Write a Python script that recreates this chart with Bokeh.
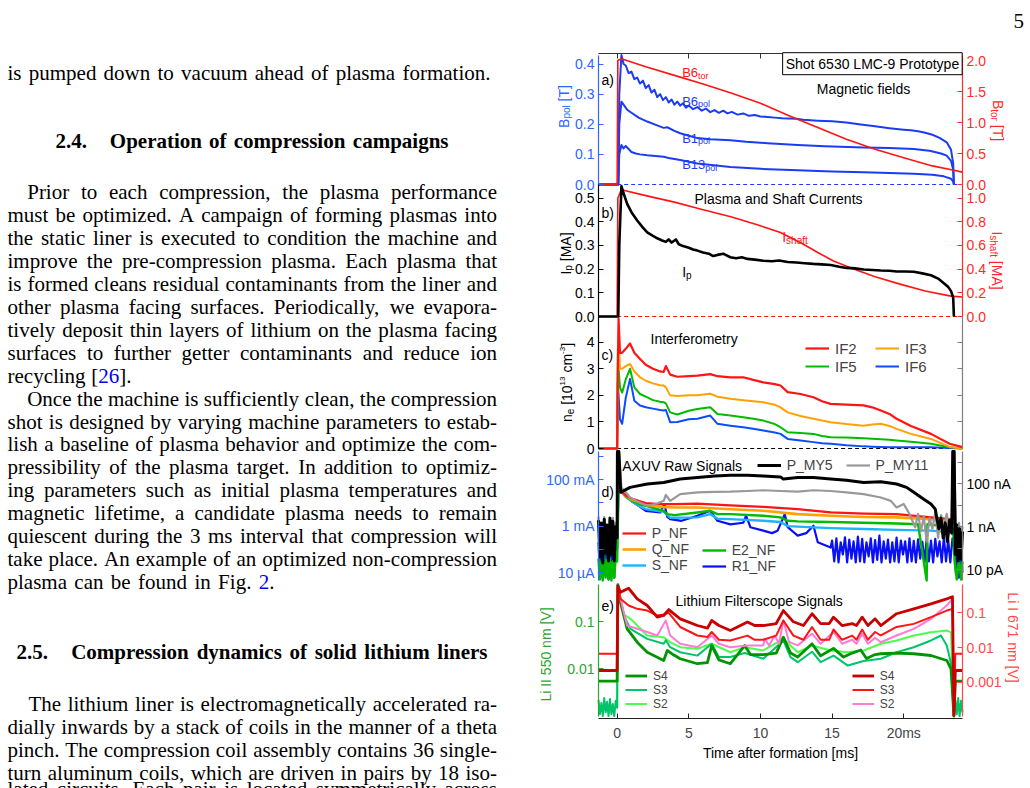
import math
from bokeh.plotting import figure
from bokeh.models import (ColumnDataSource, Range1d, LinearAxis, LogAxis, LogScale, FixedTicker, Label,
                          Legend, LegendItem)
from bokeh.core.properties import value
from bokeh.embed import file_html
from bokeh.resources import INLINE

# ----------------------------------------------------------------------------
# Shot 6530 traces (time in ms after formation)
# ----------------------------------------------------------------------------

# a) magnetic fields [T]
T_B6TOR = [-1.3, 0.0, 0.05, 0.3, 2, 4, 6, 8, 10, 12, 14, 16, 18, 20, 22, 23.5, 24.1]
B6TOR = [0, 0, 2.0, 2.03, 1.90, 1.76, 1.62, 1.47, 1.31, 1.11, 0.92, 0.73, 0.57, 0.43, 0.30, 0.23, 0.20]

T_B6POL = [-1.3, 0.08, 0.15, 0.3, 0.45, 0.6, 0.8, 1.0, 1.2, 1.4,
           1.6, 1.8, 2.0, 2.2, 2.4, 2.6, 2.8, 3.0, 3.2, 3.4,
           3.6, 3.8, 4.0, 4.2, 4.4, 4.6, 4.8, 5.0, 5.3, 5.6,
           5.9, 6.2, 6.5, 6.8, 7.1, 7.4, 7.7, 8.0, 8.4, 8.8,
           9.2, 9.6, 10.0, 10.5, 11.0, 11.5, 12.0, 12.5, 13.0, 14.0,
           15.0, 16.0, 17.0, 18.0, 19.0, 20.0, 20.5, 21.0, 21.5, 22.0,
           22.5, 23.0, 23.3, 23.45, 23.5]
B6POL = [0, 0, 0.30, 0.43, 0.40, 0.395, 0.37, 0.375, 0.35, 0.355,
         0.335, 0.345, 0.32, 0.33, 0.305, 0.315, 0.29, 0.30, 0.28, 0.29,
         0.272, 0.282, 0.265, 0.275, 0.262, 0.27, 0.255, 0.262, 0.25, 0.257,
         0.245, 0.252, 0.24, 0.247, 0.238, 0.245, 0.236, 0.241, 0.232, 0.236,
         0.228, 0.231, 0.226, 0.224, 0.222, 0.22, 0.219, 0.218, 0.215, 0.212,
         0.210, 0.206, 0.199, 0.193, 0.187, 0.182, 0.180, 0.177, 0.172, 0.165,
         0.155, 0.14, 0.115, 0.07, 0.0]

T_B1POL = [-1.3, 0.08, 0.15, 0.3, 0.5, 0.7, 1.0, 1.5, 2.1, 2.7,
           3.25, 3.5, 4.0, 4.4, 5.0, 5.6, 6.5, 7.9, 9.0, 10.5,
           12.6, 14.5, 17.2, 19.0, 20.7, 21.8, 22.6, 23.0, 23.3, 23.45, 23.5]
B1POL = [0, 0, 0.2, 0.275, 0.262, 0.248, 0.238, 0.222, 0.209, 0.198,
         0.188, 0.19, 0.178, 0.170, 0.162, 0.154, 0.150, 0.147, 0.142, 0.137,
         0.131, 0.127, 0.123, 0.121, 0.118, 0.112, 0.103, 0.096, 0.078, 0.05, 0.0]

T_B13POL = [-1.3, 0.08, 0.15, 0.3, 0.45, 0.6, 0.8, 1.0, 1.3, 1.6,
            2.1, 3.25, 3.6, 4.4, 5.6, 7.9, 10.0, 12.6, 15.0, 17.2,
            19.0, 20.7, 22.0, 22.8, 23.3, 23.45, 23.5]
B13POL = [0, 0, 0.1, 0.131, 0.12, 0.128, 0.118, 0.108, 0.103, 0.100,
          0.097, 0.092, 0.088, 0.081, 0.070, 0.058, 0.052, 0.047, 0.043, 0.041,
          0.038, 0.036, 0.032, 0.027, 0.019, 0.01, 0.0]

# b) plasma and shaft currents [MA]
T_IP = [-1.3, 0.08, 0.15, 0.3, 0.45, 0.7, 1.0, 1.4, 1.8, 2.1,
        2.5, 2.8, 3.1, 3.4, 3.6, 3.8, 4.1, 4.3, 4.6, 5.0,
        5.3, 5.6, 6.0, 6.4, 6.7, 7.0, 7.4, 7.9, 8.3, 8.7,
        9.1, 9.6, 10.2, 10.8, 11.3, 11.9, 12.5, 13.1, 13.7, 14.3,
        14.9, 15.5, 16.0, 16.6, 17.2, 17.8, 18.4, 19.0, 19.5, 20.1,
        20.7, 21.3, 21.9, 22.4, 22.8, 23.1, 23.3, 23.45, 23.5]
IP = [0, 0, 0.3, 0.55, 0.52, 0.475, 0.44, 0.405, 0.375, 0.355,
      0.34, 0.33, 0.322, 0.315, 0.325, 0.312, 0.325, 0.305, 0.297, 0.29,
      0.283, 0.278, 0.27, 0.265, 0.255, 0.26, 0.265, 0.25, 0.246, 0.25,
      0.243, 0.24, 0.235, 0.233, 0.236, 0.23, 0.228, 0.225, 0.222, 0.22,
      0.217, 0.21, 0.205, 0.203, 0.198, 0.196, 0.194, 0.193, 0.19, 0.19,
      0.189, 0.182, 0.174, 0.16, 0.14, 0.125, 0.107, 0.08, 0.0]

T_ISHAFT = [-1.3, 0.0, 0.05, 0.3, 2, 4, 5.8, 8, 10, 11.4, 13, 14, 15.1, 16.5, 18, 19.8, 21.5, 23.3, 24.1]
ISHAFT = [0, 0, 1.0, 1.07, 1.02, 0.965, 0.907, 0.84, 0.765, 0.709, 0.61, 0.54, 0.469, 0.40, 0.335, 0.271,
          0.215, 0.172, 0.164]

# dashed zero reference, drawn from formation onwards
ZERO_T = [0.0, 24.1]
ZERO_V = [0.0, 0.0]

# c) interferometry, n_e [1e13 cm^-3]
T_IF = [-1.3, 0.0, 0.05, 0.1, 0.2, 0.35, 0.6, 0.9, 1.2, 1.6,
        2.0, 2.5, 3.0, 3.25, 3.4, 3.7, 4.2, 5.0, 5.6, 6.5,
        7.0, 7.9, 8.8, 9.5, 10.2, 11.0, 11.4, 11.9, 12.8, 13.7,
        14.3, 14.9, 16.0, 17.2, 17.8, 18.4, 19.0, 19.5, 20.5, 21.9,
        23.2, 24.1]
IF2 = [0, 0, 3.0, 4.9, 3.6, 3.6, 3.75, 3.95, 3.6, 3.37,
       3.15, 3.0, 2.9, 2.88, 3.1, 2.78, 2.7, 2.72, 2.74, 2.8,
       2.72, 2.68, 2.68, 2.58, 2.49, 2.42, 2.37, 2.12, 2.05, 1.93,
       1.78, 1.68, 1.65, 1.62, 1.55, 1.43, 1.30, 1.12, 0.85, 0.55,
       0.18, 0.05]
IF3 = [0, 0, 2.5, 4.3, 3.0, 3.0, 3.1, 3.18, 2.9, 2.68,
       2.55, 2.45, 2.38, 2.37, 2.3, 2.0, 1.98, 2.0, 2.0, 2.06,
       1.95, 1.87, 1.82, 1.78, 1.74, 1.65, 1.55, 1.36, 1.22, 1.12,
       1.05, 0.99, 0.92, 0.86, 0.9, 0.93, 0.85, 0.74, 0.55, 0.36,
       0.06, 0.0]
IF5 = [0, 0, 3.75, 3.0, 2.3, 2.1, 2.6, 3.0, 2.3, 2.05,
       1.95, 1.82, 1.76, 1.74, 1.7, 1.36, 1.28, 1.42, 1.49, 1.55,
       1.30, 1.24, 1.18, 1.12, 1.05, 0.92, 0.80, 0.61, 0.58, 0.55,
       0.47, 0.42, 0.41, 0.39, 0.37, 0.35, 0.33, 0.30, 0.25, 0.18,
       0.05, 0.0]
IF6 = [0, 0, 2.49, 2.0, 1.1, 0.93, 1.9, 2.62, 1.8, 1.62,
       1.55, 1.5, 1.45, 1.43, 1.45, 0.99, 1.0, 1.1, 1.12, 1.24,
       0.93, 0.86, 0.80, 0.74, 0.68, 0.60, 0.55, 0.36, 0.30, 0.24,
       0.2, 0.18, 0.12, 0.08, 0.07, 0.06, 0.05, 0.05, 0.05, 0.05,
       0.02, 0.0]

# d) AXUV raw signals: NF channels [A], MY channels [A]
T_PMY5 = [-1.3, -1.2, -1.1, -1.0, -0.9, -0.8, -0.7, -0.6, -0.5, -0.4, -0.3, -0.2, -0.1, 0.0,
          0.02, 0.12, 0.25, 0.9, 2.1, 3.25, 4.4, 5.6, 6.8, 7.9, 9.1, 10.2, 11.4, 11.6,
          12.6, 13.7, 14.9, 16.0, 17.2, 18.4, 19.5, 20.2, 20.7, 21.4, 21.9, 22.2, 22.3,
          22.45, 22.6, 22.75, 22.9, 23.05, 23.2, 23.35, 23.42, 23.52,
          23.6, 23.7, 23.8, 23.9, 24.0, 24.1]
PMY5 = [2.0e-9, 4e-11, 1.5e-9, 2e-11, 2.2e-9, 6e-11, 1.2e-9, 2.5e-11, 2.5e-9, 5e-11, 1.8e-9, 2.5e-11, 1.0e-9, 3e-10,
        3.2e-6, 3.2e-6, 4.0e-8, 6.8e-8, 9.8e-8, 1.15e-7, 1.66e-7, 1.95e-7, 2.3e-7, 2.5e-7, 2.5e-7, 2.3e-7, 2.1e-7, 1.66e-7,
        1.95e-7, 1.95e-7, 1.66e-7, 1.45e-7, 1.15e-7, 1.25e-7, 9.8e-8, 6.8e-8, 4.0e-8, 1.9e-8, 1.15e-8, 6.6e-9, 2.7e-9,
        8e-10, 2.5e-9, 3e-10, 1.5e-9, 2e-10, 2.0e-9, 5e-10, 3.2e-6, 3.2e-6,
        5e-11, 1.2e-9, 2.5e-11, 8e-10, 3e-11, 6e-10]

T_PMY11 = [-1.3, -1.2, -1.1, -1.0, -0.9, -0.8, -0.7, -0.6, -0.5, -0.4, -0.3, -0.2, -0.1, 0.0,
           0.03, 0.13, 0.3, 0.6, 0.9, 1.5, 2.1, 2.8, 3.25, 3.4, 3.7, 4.4, 5.6, 6.8, 7.9, 9.1,
           10.2, 11.4, 12.6, 13.7, 14.9, 16.0, 17.2, 18.4, 19.1, 19.5, 20.0, 20.4, 20.8,
           21.0, 21.2, 21.4, 21.6, 21.8, 22.0, 22.2, 22.4, 22.6, 22.8, 23.0, 23.2, 23.35,
           23.43, 23.5, 23.6, 23.7, 23.85, 24.0, 24.1]
PMY11 = [3e-9, 8e-11, 1.2e-9, 3e-11, 2.8e-9, 1e-10, 9e-10, 4e-11, 2.0e-9, 6e-11, 2.6e-9, 3e-11, 1.5e-9, 5e-10,
         3.2e-6, 3.2e-6, 6.8e-8, 4e-8, 2.3e-8, 1.4e-8, 9.5e-9, 1.2e-8, 1.6e-8, 3e-8, 1.6e-8, 3.3e-8, 4.0e-8, 4.2e-8, 4.3e-8, 4.6e-8,
         5.0e-8, 4.6e-8, 4.3e-8, 5.0e-8, 4.6e-8, 4.0e-8, 3.3e-8, 2.3e-8, 1.6e-8, 7.9e-9, 1.15e-8, 3.9e-9, 9.3e-10,
         4e-9, 6e-10, 3e-9, 2e-10, 2.5e-9, 8e-10, 4.5e-9, 3e-10, 3.5e-9, 1e-9, 4e-9, 5e-10, 2.5e-9,
         3.2e-6, 3.2e-6, 1e-8, 2e-10, 1.5e-9, 3e-10, 1e-9]

T_PNF = [0.1, 0.3, 0.6, 1.0, 1.5, 2.0, 3.0, 4.0, 5.6, 7.9, 10.2, 12.6, 14.9, 17.2, 19.5, 21.9, 23.3, 23.45]
PNF = [0.05, 0.033, 0.021, 0.0155, 0.0123, 0.010, 0.0089, 0.0089, 0.0093, 0.0079, 0.0068, 0.0054, 0.0039,
       0.0035, 0.0033, 0.0024, 0.002, 0.0015]
QNF = [0.05, 0.03, 0.02, 0.014, 0.011, 0.0085, 0.0068, 0.0064, 0.0064, 0.0054, 0.0046, 0.0033, 0.0028,
       0.0025, 0.0024, 0.002, 0.0017, 0.0013]

T_E2NF = [-1.3, -1.2, -1.1, -1.0, -0.9, -0.8, -0.7, -0.6, -0.5, -0.4, -0.3, -0.2, -0.1, 0.0,
          0.1, 0.3, 0.6, 1.0, 1.5, 2.0, 2.5, 3.25, 3.5, 4.0, 5.6, 6.5, 7.0, 7.9, 10.2, 11.4, 11.9,
          12.6, 14.9, 17.2, 19.5, 21.0, 21.6, 21.65, 21.75, 23.3, 23.45,
          23.55, 23.7, 23.85, 24.0, 24.1]
E2NF = [4e-5, 5e-6, 3e-5, 4.5e-6, 5e-5, 6e-6, 3.5e-5, 5e-6, 4e-5, 4.5e-6, 3e-5, 6e-6, 4.5e-5, 3e-5,
        0.05, 0.03, 0.019, 0.013, 0.009, 0.0075, 0.0062, 0.0046, 0.0033, 0.003, 0.0039, 0.0046, 0.0033, 0.0033, 0.0028, 0.0024, 0.0017,
        0.0016, 0.0015, 0.0014, 0.0013, 0.0012, 4.5e-6, 0.0012, 0.0012, 0.0009, 0.0008,
        3e-5, 5e-6, 4e-5, 5e-6, 3e-5]

T_SNF = [0.1, 0.3, 0.6, 1.0, 1.5, 2.0, 3.0, 3.25, 3.4, 3.7, 5.6, 6.5, 7.0, 7.9, 10.2, 11.4, 11.9, 12.6,
         14.9, 17.2, 19.5, 21.9, 23.3, 23.45]
SNF = [0.05, 0.03, 0.018, 0.0123, 0.0075, 0.0054, 0.0044, 0.0043, 0.0035, 0.0023, 0.0024, 0.0033, 0.0021, 0.002,
       0.0017, 0.0015, 0.001, 0.00095, 0.00082, 0.00075, 0.00069, 0.00064, 0.00054, 0.0004]

T_R1NF = [-1.3, -1.2, -1.1, -1.0, -0.9, -0.8, -0.7, -0.6, -0.5, -0.4, -0.3, -0.2, -0.1, 0.0,
          0.1, 0.3, 0.5, 0.7, 1.0, 1.5, 2.0, 3.0, 3.3, 3.5, 3.7, 4.5, 5.6, 6.5, 7.0, 7.9, 8.8, 9.0, 9.3,
          10.2, 10.8, 11.2, 11.7, 11.9, 12.6, 13.2, 13.7, 14.0, 14.9,
          15.0, 15.15, 15.3, 15.45, 15.6, 15.75, 15.9, 16.05, 16.2, 16.35, 16.5, 16.65, 16.8, 16.95,
          17.1, 17.25, 17.4, 17.55, 17.7, 17.85, 18.0, 18.15, 18.3, 18.45, 18.6, 18.75, 18.9, 19.05,
          19.2, 19.35, 19.5, 19.65, 19.8, 19.95, 20.1, 20.25, 20.4, 20.55, 20.7, 20.85, 21.0, 21.15,
          21.3, 21.45, 21.6, 21.75, 21.9, 22.05, 22.2, 22.35, 22.5, 22.65, 22.8, 22.95, 23.1, 23.25, 23.4,
          23.55, 23.65, 23.75, 23.85, 23.95, 24.1]
R1NF = [2e-4, 1e-5, 1.5e-4, 6e-6, 2.4e-4, 1.2e-5, 1.0e-4, 5e-6, 2.0e-4, 8e-6, 1.3e-4, 6e-6, 2.2e-4, 1e-4,
        0.05, 0.03, 0.022, 0.024, 0.012, 0.0075, 0.0046, 0.0039, 0.0089, 0.0025, 0.002, 0.0017, 0.0028, 0.0046, 0.0017,
        0.0012, 0.0014, 0.0028, 0.0009,
        0.00064, 0.0005, 0.00064, 0.0033, 0.0009, 0.00039, 0.0005, 0.00104, 0.0002, 0.00012,
        2.4e-4, 3e-5, 3.0e-4, 2.7e-5, 2.0e-4, 6e-5, 3.3e-4, 2.7e-5, 2.6e-4, 4e-5, 2.2e-4, 2.7e-5, 3.5e-4, 3e-5,
        2.8e-4, 2.7e-5, 2.0e-4, 5e-5, 3.0e-4, 2.7e-5, 2.5e-4, 3.5e-5, 3.9e-4, 2.7e-5, 2.2e-4, 4e-5, 2.6e-4, 2.7e-5,
        2.0e-4, 3e-5, 3.2e-4, 2.7e-5, 2.4e-4, 6e-5, 2.2e-4, 2.7e-5, 3.0e-4, 3e-5, 2.3e-4, 2.7e-5, 2.7e-4, 4e-5,
        2.1e-4, 2.7e-5, 3.1e-4, 3e-5, 2.4e-4, 2.7e-5, 2.8e-4, 5e-5, 2.2e-4, 2.7e-5, 3.4e-4, 3e-5, 2.6e-4, 2.7e-5, 3.0e-4,
        1e-4, 8e-6, 2e-4, 6e-6, 1.5e-4, 1e-5]

# e) lithium filterscope signals [V]
T_S4R = [-1.3, 0.0, 0.05, 0.23, 0.8, 1.4, 2.1, 2.8, 3.25, 3.6, 4.4, 5.6,
         6.3, 6.6, 7.1, 7.9, 9.1, 9.6, 10.2, 11.1, 11.6, 12.3,
         13.0, 13.6, 14.2, 14.8, 15.1, 15.7, 16.4, 16.7, 17.1, 17.5,
         18.0, 18.4, 19.5, 20.7, 21.9, 23.0, 23.4, 23.5, 23.6, 24.1]
S4R = [0.00217, 0.00217, 0.6, 0.39, 0.51, 0.253, 0.162, 0.075, 0.0836, 0.124, 0.067, 0.043,
       0.036, 0.06, 0.043, 0.031, 0.054, 0.043, 0.043, 0.049, 0.116, 0.055,
       0.043, 0.094, 0.049, 0.049, 0.075, 0.043, 0.049, 0.043, 0.075, 0.043,
       0.067, 0.043, 0.094, 0.13, 0.18, 0.253, 0.29, 0.00011, 0.00217, 0.00217]
S3R = [0.0066, 0.0066, 0.6, 0.253, 0.162, 0.13, 0.116, 0.0836, 0.09, 0.1, 0.039, 0.0222,
       0.02, 0.028, 0.0167, 0.0159, 0.022, 0.0167, 0.0167, 0.022, 0.06, 0.022,
       0.0167, 0.039, 0.0167, 0.0167, 0.033, 0.0167, 0.022, 0.0167, 0.033, 0.0167,
       0.028, 0.0222, 0.039, 0.048, 0.075, 0.116, 0.13, 0.00011, 0.0066, 0.0066]

T_S2R = [0.0, 0.05, 0.46, 0.7, 2.1, 2.8, 3.4, 3.7, 4.4, 5.6,
         6.6, 7.1, 7.9, 9.1, 10.2, 10.3, 10.6, 11.0, 11.3, 11.6,
         12.0, 12.6, 13.6, 14.2, 15.1, 15.7, 16.4, 16.7, 17.1, 17.5,
         18.0, 18.4, 19.5, 20.7, 21.9, 23.0, 23.4, 23.5]
S2R = [0.0066, 0.6, 0.104, 0.043, 0.028, 0.0222, 0.06, 0.0222, 0.0128, 0.0102,
       0.0222, 0.0128, 0.0102, 0.0115, 0.0115, 0.018, 0.0115, 0.022, 0.0128, 0.06,
       0.0145, 0.0115, 0.025, 0.0128, 0.028, 0.0128, 0.0167, 0.0128, 0.025, 0.0128,
       0.019, 0.0142, 0.0222, 0.0345, 0.067, 0.162, 0.253, 0.00011]

T_S4G = [-1.3, 0.0, 0.05, 0.23, 0.7, 1.4, 2.1, 3.25, 3.5, 3.9,
         4.4, 5.6, 6.3, 6.6, 7.1, 7.9, 8.9, 9.3, 10.2, 11.1,
         11.6, 12.1, 12.6, 13.6, 14.2, 15.1, 15.8, 16.4, 17.0, 17.4,
         18.0, 18.4, 19.5, 20.7, 21.9, 23.0, 23.3, 23.5, 23.6, 24.1]
S4G = [0.0055, 0.0055, 0.6, 0.256, 0.07, 0.0365, 0.0224, 0.015, 0.0244, 0.02,
       0.0163, 0.0128, 0.0135, 0.031, 0.0154, 0.0128, 0.031, 0.02, 0.02, 0.0215,
       0.0466, 0.0215, 0.0177, 0.0338, 0.0188, 0.027, 0.0177, 0.0215, 0.025, 0.0165,
       0.02, 0.0208, 0.0215, 0.0208, 0.0191, 0.015, 0.0100, 0.001, 0.0055, 0.0055]

T_S3G = [-1.3, -1.2, -1.1, -1.0, -0.9, -0.8, -0.7, -0.6, -0.5, -0.4, -0.3, -0.2, -0.1, 0.0,
         0.05, 0.46, 0.93, 2.1, 3.25, 3.4, 3.7, 4.4, 5.6, 6.6, 7.1, 7.9, 8.9, 10.2, 11.6, 12.1,
         12.6, 13.6, 14.2, 15.1, 16.1, 17.2, 18.4, 19.5, 20.7, 21.9, 22.6, 23.0, 23.3, 23.5,
         23.6, 23.7, 23.8, 23.9, 24.0, 24.1]
S3G = [0.0022, 0.0011, 0.0019, 0.001, 0.0024, 0.0012, 0.002, 0.001, 0.0023, 0.0011, 0.0018, 0.001, 0.0021, 0.0015,
       0.6, 0.134, 0.07, 0.043, 0.0338, 0.04, 0.0286, 0.0224, 0.019, 0.0338, 0.0177, 0.0177, 0.0215, 0.0163, 0.0397, 0.0177,
       0.0138, 0.023, 0.0138, 0.019, 0.0117, 0.0146, 0.0163, 0.0224, 0.0286, 0.0397, 0.0506, 0.031, 0.013, 0.001,
       0.0022, 0.0011, 0.0024, 0.001, 0.0021, 0.0012]

T_S2G = [0.0, 0.05, 0.46, 0.93, 2.1, 3.25, 3.7, 4.4, 5.6, 6.6,
         7.9, 8.9, 10.2, 11.6, 12.6, 13.6, 14.9, 16.1, 17.2, 18.4,
         19.5, 20.7, 21.9, 23.0, 23.3, 23.5]
S2G = [0.0015, 0.5, 0.14, 0.114, 0.0506, 0.0466, 0.0366, 0.0286, 0.0265, 0.0338,
       0.0224, 0.0286, 0.0244, 0.043, 0.0224, 0.031, 0.0244, 0.0224, 0.0244, 0.0338,
       0.0397, 0.0506, 0.0593, 0.0645, 0.059, 0.001]

X_TICKS = [0, 5, 10, 15, 20]

for _t, _v in [(T_B6TOR, B6TOR), (T_B6POL, B6POL), (T_B1POL, B1POL), (T_B13POL, B13POL),
               (T_IP, IP), (T_ISHAFT, ISHAFT), (T_IF, IF2), (T_IF, IF3), (T_IF, IF5), (T_IF, IF6),
               (T_PMY5, PMY5), (T_PMY11, PMY11), (T_PNF, PNF), (T_PNF, QNF), (T_E2NF, E2NF),
               (T_SNF, SNF), (T_R1NF, R1NF), (T_S4R, S4R), (T_S4R, S3R), (T_S2R, S2R),
               (T_S4G, S4G), (T_S3G, S3G), (T_S2G, S2G)]:
    assert len(_t) == len(_v), (len(_t), len(_v))

# ----------------------------------------------------------------------------
# Page text
# ----------------------------------------------------------------------------
SERIF = "Liberation Serif"
SANS = "Liberation Sans"

FIRST_LINE = "is pumped down to vacuum ahead of plasma formation."
HEAD_24 = ("2.4.", "Operation of compression campaigns")
PARA1 = [
    "Prior to each compression, the plasma performance",
    "must be optimized. A campaign of forming plasmas into",
    "the static liner is executed to condition the machine and",
    "improve the pre-compression plasma. Each plasma that",
    "is formed cleans residual contaminants from the liner and",
    "other plasma facing surfaces. Periodically, we evapora-",
    "tively deposit thin layers of lithium on the plasma facing",
    "surfaces to further getter contaminants and reduce ion",
    "recycling [{26}].",
]
PARA2 = [
    "Once the machine is sufficiently clean, the compression",
    "shot is designed by varying machine parameters to estab-",
    "lish a baseline of plasma behavior and optimize the com-",
    "pressibility of the plasma target. In addition to optimiz-",
    "ing parameters such as initial plasma temperatures and",
    "magnetic lifetime, a candidate plasma needs to remain",
    "quiescent during the 3 ms interval that compression will",
    "take place. An example of an optimized non-compression",
    "plasma can be found in Fig. {2}.",
]
HEAD_25 = ("2.5.", "Compression dynamics of solid lithium liners")
PARA3 = [
    "The lithium liner is electromagnetically accelerated ra-",
    "dially inwards by a stack of coils in the manner of a theta",
    "pinch. The compression coil assembly contains 36 single-",
    "turn aluminum coils, which are driven in pairs by 18 iso-",
    "lated circuits. Each pair is located symmetrically across",
]

# advance widths (1/1000 em)
_TR = dict(zip("abcdefghijklmnopqrstuvwxyz",
               [444, 500, 444, 500, 444, 333, 500, 500, 278, 278, 500, 278, 778, 500, 500, 500, 500, 333, 389,
                278, 500, 500, 722, 500, 500, 444]))
_TR.update(dict(zip("ABCDEFGHIJKLMNOPQRSTUVWXYZ",
                    [722, 667, 667, 722, 611, 556, 722, 722, 333, 389, 722, 611, 889, 722, 722, 556, 722, 667, 556,
                     611, 722, 722, 944, 722, 722, 611])))
_TR.update({" ": 250, ".": 250, ",": 250, "-": 333, "[": 333, "]": 333, ":": 278})
_TR.update({d: 500 for d in "0123456789"})
_TB = dict(zip("abcdefghijklmnopqrstuvwxyz",
               [500, 556, 444, 556, 444, 333, 500, 556, 278, 333, 556, 278, 833, 556, 500, 556, 556, 444, 389,
                333, 556, 500, 722, 500, 500, 444]))
_TB.update(dict(zip("ABCDEFGHIJKLMNOPQRSTUVWXYZ",
                    [722, 667, 722, 722, 667, 611, 778, 778, 389, 500, 778, 667, 944, 722, 778, 611, 778, 722, 556,
                     667, 722, 722, 1000, 722, 722, 667])))
_TB.update({" ": 250, ".": 250, ",": 250, "-": 333})
_TB.update({d: 500 for d in "0123456789"})
_HV = dict(zip("abcdefghijklmnopqrstuvwxyz",
               [556, 556, 500, 556, 556, 278, 556, 556, 222, 222, 500, 222, 833, 556, 556, 556, 556, 333, 500,
                278, 556, 500, 722, 500, 500, 500]))
_HV.update(dict(zip("ABCDEFGHIJKLMNOPQRSTUVWXYZ",
                    [667, 667, 722, 722, 667, 611, 778, 722, 278, 500, 667, 556, 833, 722, 778, 667, 778, 722, 667,
                     611, 722, 667, 944, 667, 667, 611])))
_HV.update({" ": 278, ".": 278, "-": 333, "[": 278, "]": 278, "_": 556, "(": 333, ")": 333})
_HV.update({d: 556 for d in "0123456789"})


def serif_w(s, size, bold=False):
    tab = _TB if bold else _TR
    return sum(tab.get(c, 500) for c in s) * size / 1000.0


def sans_w(s, size):
    return sum(_HV.get(c, 556) for c in s) * size / 1000.0


def split_links(word):
    out, buf, link = [], "", False
    for ch in word:
        if ch == "{":
            if buf:
                out.append((buf, link))
            buf, link = "", True
        elif ch == "}":
            out.append((buf, link))
            buf, link = "", False
        else:
            buf += ch
    if buf:
        out.append((buf, link))
    return out


# ----------------------------------------------------------------------------
# The whole page is one frame in page pixels; the time axis and every panel
# scale are extra ranges calibrated against it
# ----------------------------------------------------------------------------
PAGE_W, PAGE_H = 1030, 788
FRAME_L, FRAME_R, FRAME_T, FRAME_B = 598, 962, 53, 718
XMIN, XMAX = -1.3, 24.1


def t_at(px):
    return XMIN + (px - FRAME_L) * (XMAX - XMIN) / (FRAME_R - FRAME_L)


# axis calibration: (value, page y) pairs for each panel scale
CAL = {
    "a_l": (0.0, 184.0, 0.4, 63.5, False),
    "a_r": (0.0, 184.0, 2.0, 60.0, False),
    "b_l": (0.0, 316.0, 0.5, 197.5, False),
    "b_r": (0.0, 316.0, 1.0, 197.5, False),
    "c_l": (0.0, 448.0, 4.0, 341.7, False),
    "d_l": (1e-5, 572.0, 1e-1, 479.3, True),
    "d_r": (1e-11, 569.0, 1e-7, 483.3, True),
    "e_l": (1e-2, 668.3, 1e-1, 621.0, True),
    "e_r": (1e-3, 681.7, 1e-1, 612.3, True),
}


def at_px(name, y):
    v1, y1, v2, y2, lg = CAL[name]
    if lg:
        a, b = math.log10(v1), math.log10(v2)
        return 10 ** (a + (y - y1) * (b - a) / (y2 - y1))
    return v1 + (y - y1) * (v2 - v1) / (y2 - y1)


p = figure(width=PAGE_W, height=PAGE_H, x_range=Range1d(0, PAGE_W), y_range=Range1d(PAGE_H, 0),
           output_backend="svg", toolbar_location=None, x_axis_location=None, y_axis_location=None,
           min_border=0, outline_line_color=None, background_fill_color="white", border_fill_color="white")
p.grid.visible = False
p.extra_x_ranges = {"t": Range1d(t_at(0), t_at(PAGE_W))}
p.extra_y_ranges = {k: Range1d(at_px(k, PAGE_H), at_px(k, 0)) for k in CAL}
p.extra_y_scales = {k: LogScale() for k in CAL if CAL[k][4]}


def label(px_x, px_y, text, size=14, color="black", align="left", baseline="alphabetic",
          angle=0.0, font=SANS, **kw):
    p.add_layout(Label(x=px_x, y=px_y, text=text, text_font=font, text_font_size=f"{size}px",
                       text_color=color, text_align=align, text_baseline=baseline, angle=angle, **kw))


# ---- body text, justified word by word
BODY_PX = 21
HEAD_PX = 21
SERIF_ASCENT = 0.891   # em-box top above the baseline
LINK = "#0000ee"
words_src = {key: dict(x=[], y=[], text=[], color=[]) for key in ("body", "bold", "edge")}


def set_line(line, y, x0, x1, bold=False, size=BODY_PX, edge=False):
    words = [split_links(w) for w in line.split(" ")]
    widths = [sum(serif_w(s, size, bold) for s, _ in w) for w in words]
    gap = (x1 - x0 - sum(widths)) / max(len(words) - 1, 1)
    key = "edge" if edge else ("bold" if bold else "body")
    # the line running off the foot of the page is anchored by its top
    yy = y - SERIF_ASCENT * size if edge else y
    x = x0
    for w, ww in zip(words, widths):
        xx = x
        for s, link in w:
            d = words_src[key]
            d["x"].append(xx)
            d["y"].append(yy)
            d["text"].append(s)
            d["color"].append(LINK if link else "black")
            xx += serif_w(s, size, bold)
        x += ww + gap


LEAD = 22.93
set_line(FIRST_LINE, 72.3, 7, 490)
set_line(HEAD_24[0], 140, 55, 90, bold=True)
set_line(HEAD_24[1], 140, 109.3, 448, bold=True)
for k, line in enumerate(PARA1):
    x1 = 131 if k == len(PARA1) - 1 else 496.5
    set_line(line, 191.7 + LEAD * k, 26.7 if k == 0 else 7, x1)
for k, line in enumerate(PARA2):
    x1 = 274 if k == len(PARA2) - 1 else 496.5
    set_line(line, 191.7 + LEAD * (k + len(PARA1)), 26.7 if k == 0 else 7, x1)
set_line(HEAD_25[0], 651.7, 16, 50, bold=True)
set_line(HEAD_25[1], 651.7, 70.7, 487, bold=True)
for k, line in enumerate(PARA3):
    set_line(line, 703.3 + LEAD * k, 28 if k == 0 else 7, 496.5, edge=(k == len(PARA3) - 1))

for key, style, base in (("body", "normal", "alphabetic"), ("bold", "bold", "alphabetic"),
                         ("edge", "normal", "top")):
    p.text(x="x", y="y", text="text", text_color="color", source=ColumnDataSource(words_src[key]),
           text_font=value(SERIF), text_font_size=value(f"{HEAD_PX if key == 'bold' else BODY_PX}px"),
           text_font_style=style, text_baseline=base, text_align="left")

# page number
label(1013, 20, "5", 21, "black", font=SERIF)

BLUE_AX = "#2f66ff"
BLUE = "#1b3cf2"
RED = "#ff1414"
RED_AX = "#ff2a2a"
ORANGE = "#ffa200"
GREEN = "#00bb00"
IFBLUE = "#0a4cff"
LBLUE = "#1fb2ff"
DBLUE = "#0a10f5"
GRAY = "#999999"
AXGRAY = "#7f7f7f"
DGREEN = "#009400"
TEAL = "#00c46a"
LGREEN = "#4cff4c"
DRED = "#c80000"
PINK = "#ff7ad8"
GREEN_AX = "#2ea52e"
RED_E = "#ff4a4a"


def trace(t, v, rng, color, width, dash="solid"):
    return p.line(t, v, x_range_name="t", y_range_name=rng, line_color=color, line_width=width,
                  line_join="round", line_dash=dash)


def sub_label(px_x, base_y, main, sub, color, size=14, sub_size=10, drop=3.5):
    label(px_x, base_y, main, size, color)
    label(px_x + sans_w(main, size), base_y + drop, sub, sub_size, color)


def vtitle(parts, x_base, y_center, up, color):
    """Rotated axis title built from (text, px, shift) pieces; shift>0 is a subscript."""
    total = sum(sans_w(t, s) for t, s, _ in parts)
    y0 = y_center + total / 2 if up else y_center - total / 2
    d = 0.0
    for t, s, shift in parts:
        lead = len(t) - len(t.lstrip(" "))
        d += sans_w(" " * lead, s)
        t = t.lstrip(" ")
        if up:
            x, y, ang = x_base + shift, y0 - d, math.pi / 2
        else:
            x, y, ang = x_base - shift, y0 + d, -math.pi / 2
        label(x, y, t, s, color, angle=ang)
        d += sans_w(t, s)


def y_axis(side, rng, ticks, labels, minor, top_px, bot_px, line_color, text_color):
    log = CAL[rng][4]
    cls = LogAxis if log else LinearAxis
    ax = cls(y_range_name=rng, fixed_location=FRAME_L if side == "left" else FRAME_R,
             ticker=FixedTicker(ticks=ticks, minor_ticks=minor),
             major_label_overrides=dict(zip(ticks, labels)),
             bounds=(at_px(rng, bot_px), at_px(rng, top_px)),
             axis_line_color=line_color, axis_line_width=1.2,
             major_tick_line_color=line_color, major_tick_in=5, major_tick_out=0,
             minor_tick_line_color=line_color, minor_tick_in=5, minor_tick_out=0,
             major_label_standoff=4, major_label_text_color=text_color, major_label_text_font=SANS,
             major_label_text_font_size="14px")
    p.add_layout(ax, side)


def add_legend(entries, left_px, top_px, row_h, size, orientation="vertical", spacing=0, glyph_w=24):
    rh = int(round(row_h))
    h = rh * len(entries) if orientation == "vertical" else rh
    p.add_layout(Legend(items=[LegendItem(label=t, renderers=[r]) for t, r in entries],
                        location=(left_px, PAGE_H - top_px - h), orientation=orientation,
                        padding=0, spacing=spacing, margin=0, glyph_width=glyph_w, glyph_height=rh,
                        label_height=rh, label_standoff=6, label_text_font=SANS,
                        label_text_font_size=f"{size}px", background_fill_alpha=0, border_line_alpha=0))


# time axis: bare ticks along the top, labelled axis at the bottom
top_ax = LinearAxis(x_range_name="t", fixed_location=FRAME_T, bounds=(XMIN, XMAX),
                    ticker=FixedTicker(ticks=[], minor_ticks=X_TICKS), minor_tick_in=5, minor_tick_out=0,
                    major_tick_line_color=None, minor_tick_line_color="#333333", axis_line_color="#333333",
                    axis_line_width=1.2)
p.add_layout(top_ax, "above")
bot_ax = LinearAxis(x_range_name="t", fixed_location=FRAME_B, bounds=(XMIN, XMAX),
                    ticker=FixedTicker(ticks=X_TICKS),
                    major_label_overrides={t: ("20ms" if t == 20 else str(t)) for t in X_TICKS},
                    major_tick_in=5, major_tick_out=0, minor_tick_line_color=None,
                    axis_line_color="#222222", major_tick_line_color="#222222", axis_line_width=1.2,
                    major_label_standoff=6, major_label_text_font=SANS, major_label_text_font_size="14px")
p.add_layout(bot_ax, "below")
label(780, 752, "Time after formation [ms]", align="center", baseline="middle")

# ---- a) magnetic fields
trace(ZERO_T, ZERO_V, "a_l", BLUE, 1.2, "4 3")
trace(T_B13POL, B13POL, "a_l", BLUE, 2)
trace(T_B1POL, B1POL, "a_l", BLUE, 2)
trace(T_B6POL, B6POL, "a_l", BLUE, 2)
trace(T_B6TOR, B6TOR, "a_r", RED, 1.6)
y_axis("left", "a_l", [0, 0.1, 0.2, 0.3, 0.4], ["0.0", "0.1", "0.2", "0.3", "0.4"], [],
       55, 184, BLUE_AX, BLUE_AX)
y_axis("right", "a_r", [0, 0.5, 1.0, 1.5, 2.0], ["0.0", "0.5", "1.0", "1.5", "2.0"], [],
       55, 184, RED_AX, RED_AX)
vtitle([("B", 14, 0), ("pol", 10, 3), (" [T]", 14, 0)], 563, 106, True, BLUE_AX)
vtitle([("B", 14, 0), ("tor", 10, 3), (" [T]", 14, 0)], 997, 120, False, RED_AX)
label(601, 79, "a)", baseline="middle")
label(863, 88, "Magnetic fields", align="center", baseline="middle")
label(871.9, 63.2, "Shot 6530 LMC-9 Prototype", align="center", baseline="middle",
      background_fill_color="white", border_line_color="black", border_line_width=1, padding=3)
sub_label(681.7, 72, "B6", "tor", RED, 13, 9, 3)
sub_label(681.7, 100.5, "B6", "pol", BLUE, 13, 9, 3)
sub_label(681.7, 137.5, "B1", "pol", BLUE, 13, 9, 3)
sub_label(681.7, 164.3, "B13", "pol", BLUE, 13, 9, 3)

# ---- b) plasma and shaft currents
trace(ZERO_T, ZERO_V, "b_l", RED, 1.2, "4 3")
trace(T_ISHAFT, ISHAFT, "b_r", RED, 1.6)
trace(T_IP, IP, "b_l", "black", 2.6)
y_axis("left", "b_l", [0, 0.1, 0.2, 0.3, 0.4, 0.5], ["0.0", "0.1", "0.2", "0.3", "0.4", "0.5"], [],
       184, 316, "black", "black")
y_axis("right", "b_r", [0, 0.2, 0.4, 0.6, 0.8, 1.0], ["0.0", "0.2", "0.4", "0.6", "0.8", "1.0"], [],
       184, 316, RED_AX, RED_AX)
vtitle([("I", 14, 0), ("p", 10, 3), (" [MA]", 14, 0)], 565, 253, True, "black")
vtitle([("I", 14, 0), ("shaft", 10, 3), (" [MA]", 14, 0)], 996, 260, False, RED_AX)
label(601, 212.5, "b)", baseline="middle")
label(778, 198.5, "Plasma and Shaft Currents", align="center", baseline="middle")
sub_label(781.7, 236.7, "I", "shaft", RED)
sub_label(681.7, 271.7, "I", "p", "black")

# ---- c) interferometry
trace(ZERO_T, ZERO_V, "c_l", "black", 1.2, "4 3")
r_if6 = trace(T_IF, IF6, "c_l", IFBLUE, 2)
r_if5 = trace(T_IF, IF5, "c_l", GREEN, 2)
r_if3 = trace(T_IF, IF3, "c_l", ORANGE, 2)
r_if2 = trace(T_IF, IF2, "c_l", RED, 2.2)
y_axis("left", "c_l", [0, 1, 2, 3, 4], ["0", "1", "2", "3", "4"], [], 316, 448, "black", "black")
y_axis("right", "c_l", [], [], [1, 2, 3, 4], 316, 448, AXGRAY, AXGRAY)
vtitle([("n", 14, 0), ("e", 10, 3), (" [10", 14, 0), ("13", 8, -5), (" cm", 14, 0), ("-3", 8, -5),
        ("]", 14, 0)], 566.7, 382, True, "black")
label(601, 354, "c)", baseline="middle")
label(650, 338, "Interferometry", baseline="middle")
add_legend([("IF2", r_if2), ("IF5", r_if5)], 805, 339, 18.4, 15)
add_legend([("IF3", r_if3), ("IF6", r_if6)], 875, 339, 18.4, 15)

# ---- d) AXUV raw signals
r_r1 = trace(T_R1NF, R1NF, "d_l", DBLUE, 2.2)
r_s = trace(T_SNF, SNF, "d_l", LBLUE, 2.4)
r_e2 = trace(T_E2NF, E2NF, "d_l", GREEN, 2.4)
r_q = trace(T_PNF, QNF, "d_l", ORANGE, 2.6)
r_p = trace(T_PNF, PNF, "d_l", RED, 2.2)
r_my11 = trace(T_PMY11, PMY11, "d_r", GRAY, 2.2)
r_my5 = trace(T_PMY5, PMY5, "d_r", "black", 3)
y_axis("left", "d_l", [1e-5, 1e-3, 1e-1], ["10 µA", "1 mA", "100 mA"], [1e-4, 1e-2, 1.0],
       451, 580, BLUE_AX, BLUE_AX)
y_axis("right", "d_r", [1e-11, 1e-9, 1e-7], ["10 pA", "1 nA", "100 nA"], [1e-10, 1e-8, 1e-6],
       451, 580, AXGRAY, "black")
label(601, 491.7, "d)", baseline="middle")
label(621.7, 465, "AXUV Raw Signals", baseline="middle")
add_legend([("P_MY5", r_my5), ("P_MY11", r_my11)], 756.7, 457, 16, 14, orientation="horizontal",
           spacing=13)
add_legend([("P_NF", r_p), ("Q_NF", r_q), ("S_NF", r_s)], 621.7, 525.1, 16.4, 14)
add_legend([("E2_NF", r_e2), ("R1_NF", r_r1)], 701.7, 541.8, 16.4, 14)

# ---- e) lithium filterscope signals
r_s2g = trace(T_S2G, S2G, "e_l", LGREEN, 2)
r_s3g = trace(T_S3G, S3G, "e_l", TEAL, 2)
r_s4g = trace(T_S4G, S4G, "e_l", DGREEN, 2.8)
r_s2r = trace(T_S2R, S2R, "e_r", PINK, 2)
r_s3r = trace(T_S4R, S3R, "e_r", RED, 2)
r_s4r = trace(T_S4R, S4R, "e_r", DRED, 2.8)
y_axis("left", "e_l", [0.01, 0.1], ["0.01", "0.1"], [], 584, 716, GREEN_AX, GREEN_AX)
y_axis("right", "e_r", [0.001, 0.01, 0.1], ["0.001", "0.01", "0.1"], [], 584, 716, RED_E, RED_E)
vtitle([("Li II 550 nm [V]", 14, 0)], 545, 654, True, GREEN_AX)
vtitle([("Li I 671 nm [V]", 14, 0)], 1012, 637, False, RED_E)
label(601, 605, "e)", baseline="middle")
label(675, 600, "Lithium Filterscope Signals", baseline="middle")
add_legend([("S4", r_s4g), ("S3", r_s3g), ("S2", r_s2g)], 625, 671.6, 13.35, 12, glyph_w=22)
add_legend([("S4", r_s4r), ("S3", r_s3r), ("S2", r_s2r)], 851.7, 671.6, 13.35, 12, glyph_w=22)

open("out.html", "w").write(file_html(p, INLINE))
